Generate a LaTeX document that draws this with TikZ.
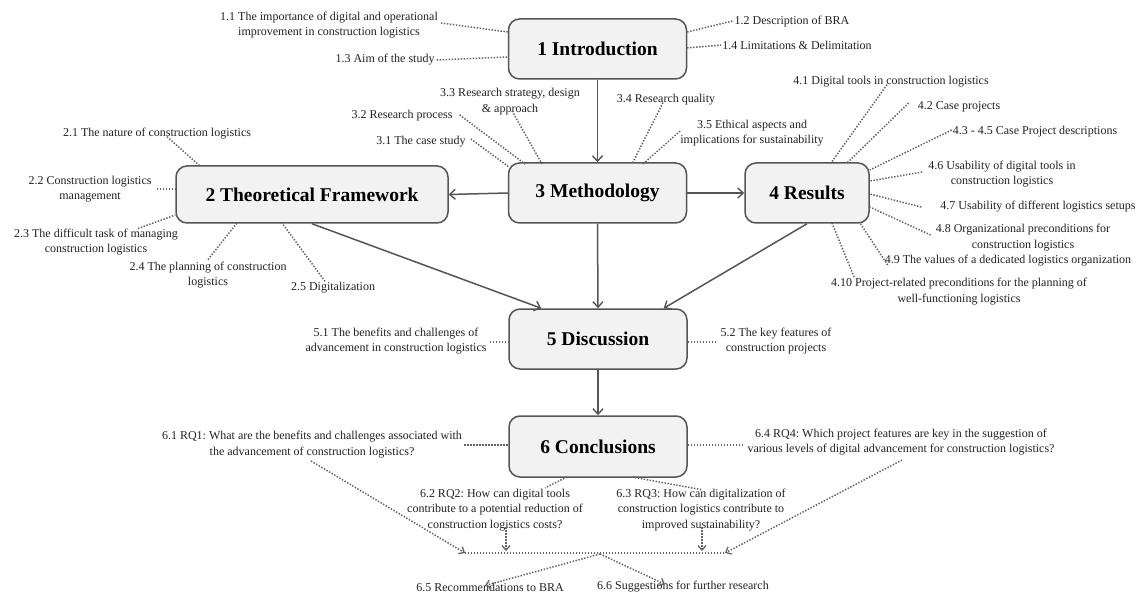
\documentclass[tikz,border=0pt]{standalone}
\usepackage{fontspec}
\setmainfont{Liberation Serif}
\usetikzlibrary{arrows.meta,calc}
\frenchspacing
\definecolor{boxline}{HTML}{555555}
\definecolor{boxfill}{HTML}{F2F2F2}
\definecolor{dotline}{HTML}{626262}
\definecolor{labeltext}{HTML}{222222}
\tikzset{
  chapter/.style={draw=boxline, fill=boxfill, line width=1.5pt, rounded corners=11pt,
    minimum width=178pt, minimum height=60pt, inner sep=0pt,
    font=\fontsize{19.5}{22}\selectfont\bfseries},
  lbl/.style={align=center, inner sep=0pt, text=labeltext,
    font=\fontsize{12}{15.5}\selectfont},
  flow/.style={draw=boxline, line width=1.5pt, -{Straight Barb[length=5.5pt,width=10pt,line width=1.4pt]}},
  dotc/.style={draw=dotline, line width=1.5pt, dash pattern=on 1.4pt off 1.6pt},
  dotarrow/.style={dotc, -{Straight Barb[length=4.5pt,width=8pt,line width=1.3pt]}}
}
\begin{document}
\begin{tikzpicture}[x=1pt,y=-1pt]
\useasboundingbox[fill=white] (0,0) rectangle (1141,596);

% chapter boxes
\node[chapter] (intro) at (597.5,49) {1 Introduction};
\node[chapter] (meth)  at (597.5,193) {3 Methodology};
\node[chapter, minimum width=272pt, minimum height=57pt] (frame) at (312,194.5) {2 Theoretical Framework};
\node[chapter, minimum width=124pt] (res) at (807,193) {4 Results};
\node[chapter] (disc)  at (598,339) {5 Discussion};
\node[chapter, minimum height=61pt] (concl) at (598,446.5) {6 Conclusions};

% main flow
\draw[flow] (intro.south) -- (meth.north);
\draw[flow] (meth.west) -- (frame.east);
\draw[flow] (meth.east) -- (res.west);
\draw[flow] (meth.south) -- (disc.north);
\draw[flow] (frame.south) -- ([xshift=33pt]disc.north west);
\draw[flow] (res.south) -- ([xshift=-24pt]disc.north east);
\draw[flow] (disc.south) -- (concl.north);

% 1 Introduction
\node[lbl] (l11) at (329,25) {1.1 The importance of digital and operational\\improvement in construction logistics};
\node[lbl] (l13) at (385,60) {1.3 Aim of the study};
\node[lbl] (l12) at (792,22) {1.2 Description of BRA};
\node[lbl] (l14) at (797,45) {1.4 Limitations \& Delimitation};
\draw[dotc] ([shift={(3pt,2pt)}]l11.east) -- (intro.west |- 0,32);
\draw[dotc] ([xshift=2pt]l13.east) -- (intro.west |- 0,57);
\draw[dotc] (intro.east |- 0,32) -- ([shift={(-2pt,1pt)}]l12.west);
\draw[dotc] (intro.east |- 0,48) -- ([xshift=-1pt]l14.west);

% 3 Methodology
\node[lbl] (l33) at (510,101.5) {3.3 Research strategy, design\\\& approach};
\node[lbl] (l32) at (402,116) {3.2 Research process};
\node[lbl] (l31) at (421,142) {3.1 The case study};
\node[lbl] (l34) at (666,100) {3.4 Research quality};
\node[lbl] (l35) at (752,133) {3.5 Ethical aspects and\\implications for sustainability};
\coordinate (m33) at (542,164);
\coordinate (m32) at (525,164);
\coordinate (m31) at (509,167);
\coordinate (m34) at (632,164);
\coordinate (m35) at (643,164);
\draw[dotc] ([shift={(2pt,4pt)}]l33.south) -- (m33);
\draw[dotc] ([shift={(7pt,1pt)}]l32.east) -- (m32);
\draw[dotc] ([shift={(5pt,3pt)}]l31.east) -- (m31);
\draw[dotc] ([shift={(-3pt,3pt)}]l34.south) -- (m34);
\draw[dotc] ([shift={(0pt,2pt)}]l35.west) -- (m35);

% 2 Theoretical Framework
\node[lbl] (l21) at (157,134) {2.1 The nature of construction logistics};
\node[lbl] (l22) at (90,189) {2.2 Construction logistics\\management};
\node[lbl] (l23) at (96,242) {2.3 The difficult task of managing\\construction logistics};
\node[lbl] (l24) at (208,275) {2.4 The planning of construction\\logistics};
\node[lbl] (l25) at (333,288) {2.5 Digitalization};
\coordinate (f21) at (200,166);
\coordinate (f24) at (237,223);
\coordinate (f25) at (282,223);
\draw[dotc] ([shift={(10pt,3pt)}]l21.south) -- (f21);
\draw[dotc] ([xshift=5pt]l22.east) -- (frame.west |- 0,189);
\draw[dotc] ([shift={(42pt,0pt)}]l23.north) -- (frame.west |- 0,215);
\draw[dotc] ([yshift=2pt]l24.north) -- (f24);
\draw[dotc] ([shift={(-8pt,1pt)}]l25.north) -- (f25);

% 4 Results
\node[lbl] (l41) at (891,82) {4.1 Digital tools in construction logistics};
\node[lbl] (l42) at (959,107) {4.2 Case projects};
\node[lbl] (l43) at (1035,132) {4.3 - 4.5 Case Project descriptions};
\node[lbl] (l46) at (1002,174) {4.6 Usability of digital tools in\\construction logistics};
\node[lbl] (l47) at (1038,207) {4.7 Usability of different logistics setups};
\node[lbl] (l48) at (1023,237.5) {4.8 Organizational preconditions for\\construction logistics};
\node[lbl] (l49) at (1008,261) {4.9 The values of a dedicated logistics organization};
\node[lbl] (l410) at (959,291.5) {4.10 Project-related preconditions for the planning of\\well-functioning logistics};
\coordinate (r41) at (831,163);
\coordinate (r42) at (847,163);
\coordinate (r49) at (860,223);
\coordinate (r410) at (832,223);
\draw[dotc] ([shift={(-4pt,3pt)}]l41.south) -- (r41);
\draw[dotc] ([shift={(-9pt,4pt)}]l42.west) -- (r42);
\draw[dotc] ([shift={(-1pt,2pt)}]l43.west) -- (res.east |- 0,170);
\draw[dotc] ([shift={(-6pt,2pt)}]l46.west) -- (res.east |- 0,181);
\draw[dotc] ([xshift=-19pt]l47.west) -- (res.east |- 0,194);
\draw[dotc] ([shift={(-5pt,2.5pt)}]l48.west) -- (res.east |- 0,207);
\draw[dotc] ([shift={(3pt,-4pt)}]l49.west) -- (r49);
\draw[dotc] ([shift={(23pt,1pt)}]l410.north west) -- (r410);

% 5 Discussion
\node[lbl] (l51) at (396,341) {5.1 The benefits and challenges of\\advancement in construction logistics};
\node[lbl] (l52) at (776,341) {5.2 The key features of\\construction projects};
\draw[dotc] ([xshift=3pt]l51.east |- 0,342) -- (disc.west |- 0,342);
\draw[dotc] (disc.east |- 0,342) -- ([xshift=-3pt]l52.west |- 0,342);

% 6 Conclusions
\node[lbl] (l61) at (312,444.5) {6.1 RQ1: What are the benefits and challenges associated with\\the advancement of construction logistics?};
\node[lbl] (l62) at (495,510) {6.2 RQ2: How can digital tools\\contribute to a potential reduction of\\construction logistics costs?};
\node[lbl] (l63) at (701,510) {6.3 RQ3: How can digitalization of\\construction logistics contribute to\\improved sustainability?};
\node[lbl] (l64) at (901,442) {6.4 RQ4: Which project features are key in the suggestion of\\various levels of digital advancement for construction logistics?};
\node[lbl] (l65) at (490,587) {6.5 Recommendations to BRA};
\node[lbl] (l66) at (683,587) {6.6 Suggestions for further research};
\coordinate (c62) at (567,477);
\coordinate (c63) at (632,477);
\draw[dotc] ([xshift=2pt]l61.east |- 0,445) -- (concl.west |- 0,445);
\draw[dotc] (concl.east |- 0,445) -- ([xshift=-3pt]l64.west |- 0,445);
\draw[dotc] (c62) -- ([shift={(50pt,1pt)}]l62.north);
\draw[dotc] (c63) -- ([shift={(1pt,-1pt)}]l63.north);

% merging line of the research questions
\coordinate (mL) at (465,553);
\coordinate (mR) at (725,553);
\coordinate (mJ) at (600,554);
\coordinate (d62) at (506,551);
\coordinate (d63) at (702,551);
\coordinate (s61) at (311,461);
\coordinate (s64) at (902,460);
\draw[dotc] (mL) -- (mR);
\draw[dotarrow] (s61) -- (mL);
\draw[dotarrow] ([shift={(11pt,4pt)}]l62.south) -- (d62);
\draw[dotarrow] ([shift={(1pt,4pt)}]l63.south) -- (d63);
\draw[dotarrow] (s64) -- (mR);
\draw[dotarrow] (mJ) -- ([shift={(-5pt,-3pt)}]l65.north);
\draw[dotarrow] (mJ) -- ([shift={(-18pt,-3pt)}]l66.north);
\end{tikzpicture}
\end{document}
